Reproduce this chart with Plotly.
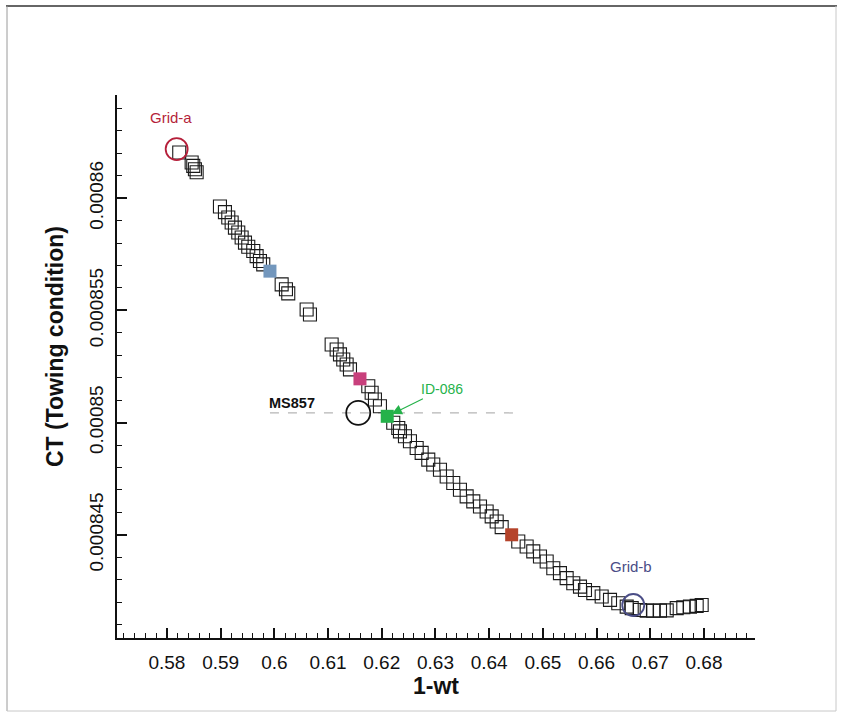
import plotly.graph_objects as go

# ---- data ----
wake_x = [0.58229, 0.58460, 0.58490, 0.58521, 0.58553, 0.58987, 0.59080, 0.59142, 0.59205, 0.59266,
          0.59328, 0.59391, 0.59453, 0.59514, 0.59607, 0.59670, 0.59732, 0.59793, 0.60136, 0.60216,
          0.60259, 0.60601, 0.60663, 0.61067, 0.61160, 0.61222, 0.61283, 0.61346, 0.61408, 0.61749,
          0.61812, 0.61873, 0.61966, 0.62214, 0.62307, 0.62339, 0.62432, 0.62525, 0.62650, 0.62743,
          0.62866, 0.62959, 0.63084, 0.63209, 0.63331, 0.63456, 0.63581, 0.63704, 0.63829, 0.63953,
          0.64047, 0.64140, 0.64233, 0.64542, 0.64698, 0.64821, 0.64946, 0.65071, 0.65194, 0.65318,
          0.65443, 0.65566, 0.65691, 0.65784, 0.65939, 0.66095, 0.66250, 0.66404, 0.66561, 0.66654,
          0.66808, 0.66933, 0.67056, 0.67181, 0.67306, 0.67492, 0.67615, 0.67739, 0.67864, 0.67957]
ct_y = [0.00086204, 0.00086159, 0.00086144, 0.00086129, 0.00086116, 0.00085963, 0.00085938, 0.00085914,
        0.00085892, 0.00085869, 0.00085847, 0.00085825, 0.00085802, 0.00085784, 0.00085765, 0.00085742,
        0.00085720, 0.00085705, 0.00085616, 0.00085594, 0.00085576, 0.00085504, 0.00085482, 0.00085348,
        0.00085326, 0.00085304, 0.00085281, 0.00085259, 0.00085237, 0.00085162, 0.00085133, 0.00085103,
        0.00085073, 0.00084999, 0.00084976, 0.00084961, 0.00084939, 0.00084917, 0.00084887, 0.00084865,
        0.00084835, 0.00084813, 0.00084790, 0.00084760, 0.00084731, 0.00084701, 0.00084671, 0.00084649,
        0.00084626, 0.00084604, 0.00084582, 0.00084559, 0.00084534, 0.00084470, 0.00084448, 0.00084426,
        0.00084403, 0.00084381, 0.00084351, 0.00084329, 0.00084307, 0.00084284, 0.00084269, 0.00084254,
        0.00084240, 0.00084225, 0.00084210, 0.00084195, 0.00084180, 0.00084173, 0.00084165, 0.00084162,
        0.00084162, 0.00084162, 0.00084163, 0.00084173, 0.00084177, 0.00084180, 0.00084183, 0.00084187]

# highlighted designs (filled squares)
hl_x = [0.59918, 0.61594, 0.62102, 0.64419]
hl_y = [0.00085675, 0.00085195, 0.00085028, 0.00084500]
hl_colors = ["#7397bd", "#c8407c", "#25b24a", "#b5432a"]

# reference grids / model
grid_names = ["Grid-a", "Grid-b"]
grid_x = [0.58181, 0.66683]
grid_y = [0.00086219, 0.00084187]
grid_colors = ["#b51f3a", "#4a4d86"]

ms_name = "MS857"
ms_x = [0.61562]
ms_y = [0.00085043]
ms_line_x = [0.59918, 0.64481]

id_name = "ID-086"

x_ticks = [0.58, 0.59, 0.60, 0.61, 0.62, 0.63, 0.64, 0.65, 0.66, 0.67, 0.68]
x_ticktext = ["0.58", "0.59", "0.6", "0.61", "0.62", "0.63", "0.64", "0.65", "0.66", "0.67", "0.68"]
y_ticks = [0.000845, 0.00085, 0.000855, 0.00086]
y_ticktext = ["0.000845", "0.00085", "0.000855", "0.00086"]

x_range = [0.5707, 0.6895]
y_range = [0.0008404, 0.0008646]

FONT = "Arial, 'Liberation Sans', sans-serif"

fig = go.Figure()

fig.add_trace(go.Scatter(
    x=[ms_line_x[0], ms_line_x[1]], y=[ms_y[0], ms_y[0]], mode="lines",
    line=dict(color="#b5b5b5", width=1.2, dash="dash"), hoverinfo="skip", showlegend=False))

fig.add_trace(go.Scatter(
    x=wake_x, y=ct_y, mode="markers",
    marker=dict(symbol="square-open", size=13, color="#1a1a1a", line=dict(width=1.1)),
    showlegend=False))

fig.add_trace(go.Scatter(
    x=hl_x, y=hl_y, mode="markers",
    marker=dict(symbol="square", size=13, color=hl_colors, line=dict(width=0)),
    showlegend=False))

fig.add_trace(go.Scatter(
    x=grid_x, y=grid_y, mode="markers",
    marker=dict(symbol="circle-open", size=22, color=grid_colors, line=dict(width=1.8)),
    showlegend=False))

fig.add_trace(go.Scatter(
    x=ms_x, y=ms_y, mode="markers",
    marker=dict(symbol="circle-open", size=24, color="#111111", line=dict(width=1.8)),
    showlegend=False))

# outer frame / placement helpers (pixel coordinates converted to paper)
L, R, T, B = 117, 755, 95, 638
W, H = 843, 717
def px(xp):
    return (xp - L) / (R - L)
def py(yp):
    return (B - yp) / (B - T)

# labels
fig.add_annotation(x=grid_x[0], y=grid_y[0], text=grid_names[0], showarrow=False,
                   xshift=-6, yshift=32, font=dict(family=FONT, size=15, color=grid_colors[0]))
fig.add_annotation(x=grid_x[1], y=grid_y[1], text=grid_names[1], showarrow=False,
                   xshift=-2, yshift=39, font=dict(family=FONT, size=15, color=grid_colors[1]))
fig.add_annotation(x=ms_x[0], y=ms_y[0], text="<b>" + ms_name + "</b>", showarrow=False,
                   xshift=-66, yshift=10, font=dict(family=FONT, size=14.5, color="#111111"))
fig.add_annotation(x=hl_x[2], y=hl_y[2], text=id_name, showarrow=True,
                   ax=55, ay=-27, arrowhead=2, arrowsize=1.7, arrowwidth=1.2,
                   arrowcolor="#25b24a", standoff=5,
                   font=dict(family=FONT, size=14, color="#25b24a"))
fig.add_annotation(xref="paper", yref="paper", x=px(55), y=py(347), text="<b>CT (Towing condition)</b>",
                   textangle=-90, showarrow=False, xanchor="center", yanchor="middle",
                   font=dict(family=FONT, size=23, color="#111111"))

fig.add_shape(type="line", xref="paper", yref="paper", x0=px(6), x1=px(837), y0=py(6), y1=py(6),
              line=dict(color="#333333", width=1.5))
fig.add_shape(type="line", xref="paper", yref="paper", x0=px(7), x1=px(7), y0=py(6), y1=py(711),
              line=dict(color="#9a9a9a", width=1))
fig.add_shape(type="line", xref="paper", yref="paper", x0=px(836), x1=px(836), y0=py(6), y1=py(711),
              line=dict(color="#c8c8c8", width=1))
fig.add_shape(type="line", xref="paper", yref="paper", x0=px(7), x1=px(836), y0=py(711), y1=py(711),
              line=dict(color="#c8c8c8", width=1))

fig.update_layout(
    width=W, height=H,
    margin=dict(l=L, r=W - R, t=T, b=H - B),
    paper_bgcolor="white", plot_bgcolor="white",
    font=dict(family=FONT, color="#111111"),
    xaxis=dict(range=x_range, tickvals=x_ticks, ticktext=x_ticktext,
               ticks="inside", ticklen=10, tickwidth=2, tickcolor="#111111",
               minor=dict(ticks="inside", ticklen=5, dtick=0.002, tick0=0.58, tickcolor="#111111", tickwidth=1),
               showline=True, linecolor="#111111", linewidth=2, showgrid=False, zeroline=False,
               tickfont=dict(size=19), ticklabelstandoff=6,
               title=dict(text="<b>1-wt</b>", font=dict(size=23), standoff=6)),
    yaxis=dict(range=y_range, tickvals=y_ticks, ticktext=y_ticktext,
               ticks="inside", ticklen=10, tickwidth=2, tickcolor="#111111",
               minor=dict(ticks="inside", ticklen=5, dtick=0.000001, tick0=0.00086, tickcolor="#111111", tickwidth=1),
               showline=True, linecolor="#111111", linewidth=2, showgrid=False, zeroline=False,
               tickfont=dict(size=19), tickangle=-90, ticklabelstandoff=4),
)

fig.write_html("out.html")
